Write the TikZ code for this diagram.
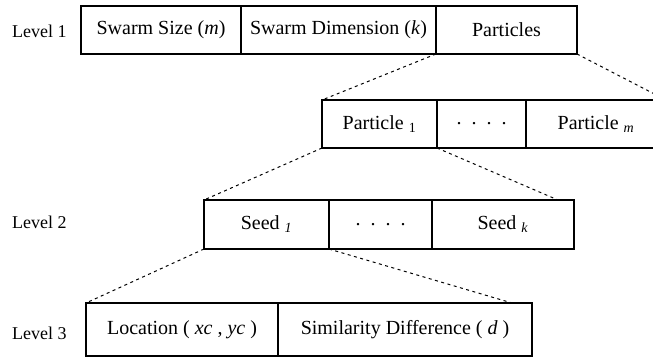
\documentclass[tikz,border=0pt]{standalone}
\usepackage{fontspec}
\setmainfont{Liberation Serif}
\usetikzlibrary{positioning}

\begin{document}
\begin{tikzpicture}[x=1pt,y=-1pt,
	cell/.style={draw, line width=1.2pt, inner sep=0pt, outer sep=0pt,
		minimum height=48pt, font=\fontsize{20}{23}\selectfont},
	lvl/.style={anchor=west, inner sep=0pt, font=\fontsize{18}{22}\selectfont},
	link/.style={line width=1pt, dash pattern=on 3pt off 3.5pt}]

\useasboundingbox (0,0) rectangle (653,358);
\clip (0,0) rectangle (653,358);

% level 1
\node [cell, anchor=north west, minimum width=160pt] (swarmsize) at (81,6) {Swarm Size (\textit{m})};
\node [cell, right=0pt of swarmsize, minimum width=195pt] (swarmdim) {Swarm Dimension (\textit{k})};
\node [cell, right=0pt of swarmdim, minimum width=141pt] (particles) {Particles};

% particles
\node [cell, anchor=north west, minimum width=115pt] (part1) at (322,100) {Particle \textsubscript{1}};
\node [cell, right=0pt of part1, minimum width=89pt] (partdots) {.\ \ .\ \ .\ \ .};
\node [cell, right=0pt of partdots, minimum width=140pt] (partm) {Particle \textsubscript{\textit{m}}};

% level 2
\node [cell, anchor=north west, minimum width=125pt, minimum height=49pt] (seed1) at (204,200) {Seed \textsubscript{\textit{1}}};
\node [cell, right=0pt of seed1, minimum width=103pt, minimum height=49pt] (seeddots) {.\ \ .\ \ .\ \ .};
\node [cell, right=0pt of seeddots, minimum width=142pt, minimum height=49pt] (seedk) {Seed \textsubscript{\textit{k}}};

% level 3
\node [cell, anchor=north west, minimum width=192pt, minimum height=53pt] (location) at (86,303) {Location ( \textit{xc} , \textit{yc} )};
\node [cell, right=0pt of location, minimum width=254pt, minimum height=53pt] (simdiff) {Similarity Difference ( \textit{d} )};

\node [lvl] (levelone) at (12,31) {Level 1};
\node [lvl] (leveltwo) at (12,222) {Level 2};
\node [lvl] (levelthree) at (12,333) {Level 3};

\coordinate (seedend) at ([xshift=-16pt]seedk.north east);
\coordinate (simend) at ([xshift=-20pt]simdiff.north east);

\draw [link] (particles.south west) -- (part1.north west);
\draw [link] (particles.south east) -- (partm.north east);
\draw [link] (part1.south west) -- (seed1.north west);
\draw [link] (part1.south east) -- (seedend);
\draw [link] (seed1.south west) -- (location.north west);
\draw [link] (seed1.south east) -- (simend);

\end{tikzpicture}
\end{document}
